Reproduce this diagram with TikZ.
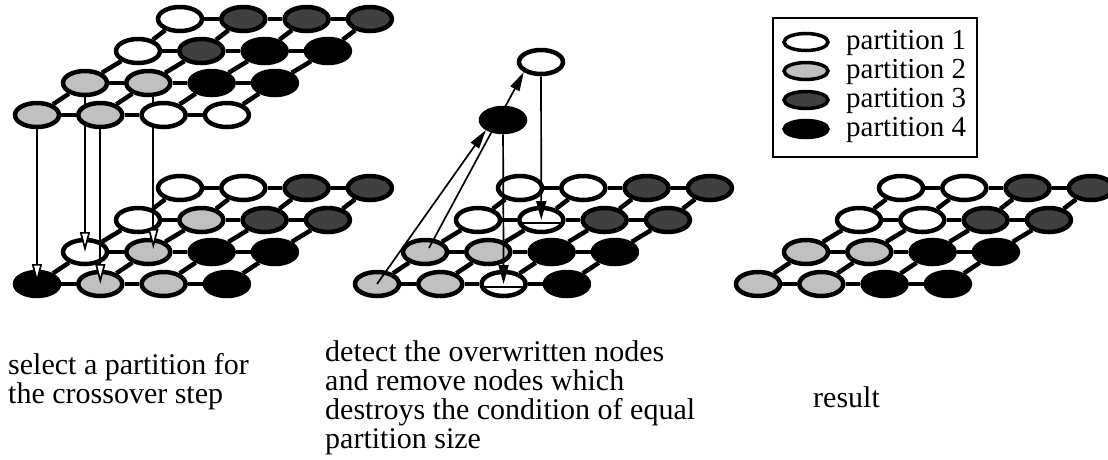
\documentclass[tikz,border=0pt]{standalone}
\usepackage{fontspec}
\setmainfont{Liberation Serif}
\usetikzlibrary{shapes.geometric,arrows.meta}

% drawing order: lower lattice edges, lower lattice nodes, transfer arrows,
% upper lattice edges, upper lattice nodes (main)
\pgfdeclarelayer{lowedges}
\pgfdeclarelayer{lower}
\pgfdeclarelayer{arrowlayer}
\pgfdeclarelayer{topedges}
\pgfsetlayers{lowedges,lower,arrowlayer,topedges,main}

\definecolor{cw}{RGB}{255,255,255}
\definecolor{cg}{RGB}{192,192,192}
\definecolor{cd}{RGB}{64,64,64}
\definecolor{ck}{RGB}{0,0,0}

% #1 name prefix, #2/#3 position of the front-left node,
% #4 partition codes row by row (back row first), #5 edge layer, #6 node layer
\newcommand\latticegrid[6]{%
  \begin{pgfonlayer}{#6}
    \foreach \rowcols [count=\r] in {#4} {
      \pgfmathsetmacro\ox{{143,101,48,0}[\r-1]}
      \foreach \s [count=\c] in \rowcols {
        \node[cell, fill=c\s] (#1-\r-\c) at ({#2+\ox+(\c-1)*63.3}, {#3-(4-\r)*32}) {};
      }
    }
  \end{pgfonlayer}
  \begin{pgfonlayer}{#5}
    \foreach \r in {1,...,4} {
      \foreach \c in {1,...,3} {
        \pgfmathtruncatemacro\cn{\c+1}
        \draw[edge] (#1-\r-\c) -- (#1-\r-\cn);
      }
    }
    \foreach \r in {2,...,4} {
      \foreach \c in {1,...,4} {
        \pgfmathtruncatemacro\rn{\r-1}
        \draw[edge] (#1-\r-\c) -- (#1-\rn-\c);
      }
    }
  \end{pgfonlayer}
}

\begin{document}
\begin{tikzpicture}[
    x=1pt, y=-1pt,
    cell/.style={ellipse, draw=black, line width=4.5pt, minimum width=44pt,
                 minimum height=24pt, inner sep=0pt},
    keycell/.style={ellipse, draw=black, line width=3.5pt, minimum width=44pt,
                 minimum height=17pt, inner sep=0pt},
    edge/.style={line width=4.5pt, black},
    cutline/.style={line width=1.5pt, black},
    liftarrow/.style={line width=1.7pt, -{Triangle[length=20pt,width=10pt,fill=white]}},
    pusharrow/.style={line width=1.7pt, -{Triangle[length=19pt,width=10pt]}},
    caption/.style={font=\fontsize{30pt}{29pt}\selectfont, inner sep=0pt,
                 align=left, anchor=base west},
    keytext/.style={font=\fontsize{29pt}{29pt}\selectfont, inner sep=0pt,
                 anchor=base west},
  ]
  \useasboundingbox (0,0) rectangle (1108,459);

  % the four lattices
  \latticegrid{T}{37}{115}{{w,d,d,d},{w,d,k,k},{g,g,k,k},{g,g,w,w}}{topedges}{main}
  \latticegrid{L}{37}{284}{{w,w,d,d},{w,g,d,d},{w,g,k,k},{k,g,g,k}}{lowedges}{lower}
  \latticegrid{M}{377}{284}{{w,w,d,d},{w,w,d,d},{g,g,k,k},{g,g,w,k}}{lowedges}{lower}
  \latticegrid{R}{758}{284}{{w,w,d,d},{w,w,d,d},{g,g,k,k},{g,g,k,k}}{lowedges}{lower}

  % overwritten nodes
  \begin{pgfonlayer}{lower}
    \draw[cutline] ([xshift=-20pt,yshift=-3pt]M-2-2.center) -- ([xshift=20pt,yshift=-3pt]M-2-2.center);
    \draw[cutline] ([xshift=-20pt,yshift=-3pt]M-4-3.center) -- ([xshift=20pt,yshift=-3pt]M-4-3.center);
  \end{pgfonlayer}

  % lifted nodes
  \node[cell, fill=cw] (moved-w) at (541,62) {};
  \node[cell, fill=ck] (moved-k) at (503,120) {};

  \begin{pgfonlayer}{arrowlayer}
    % crossover copy
    \draw[liftarrow] (T-4-1) -- (L-4-1.center);
    \draw[liftarrow] (T-3-1) -- (L-3-1.center);
    \draw[liftarrow] (T-4-2) -- (L-4-2.center);
    \draw[liftarrow] ([xshift=5pt]T-3-2.center) -- ([xshift=5pt,yshift=3pt]L-3-2.center);
    % repair moves
    \draw[pusharrow] (M-4-1.center) -- (moved-k.south west);
    \draw[pusharrow] ([xshift=4pt,yshift=4pt]M-3-1.center) -- (moved-w.south west);
    \draw[pusharrow] (moved-k) -- (M-4-3.center);
    \draw[pusharrow] (moved-w) -- (M-2-2.center);
  \end{pgfonlayer}

  % legend
  \draw[line width=2pt] (773,18) rectangle (977,157);
  \node[keycell, fill=cw] (key-1) at (806,42) {};
  \node[keycell, fill=cg] (key-2) at (806,71) {};
  \node[keycell, fill=cd] (key-3) at (806,100) {};
  \node[keycell, fill=ck] (key-4) at (806,129) {};
  \node[keytext] (keytext-1) at (846,49) {partition 1};
  \node[keytext] (keytext-2) at (846,78) {partition 2};
  \node[keytext] (keytext-3) at (846,107) {partition 3};
  \node[keytext] (keytext-4) at (846,136) {partition 4};

  % captions (anchored at the baseline of their last line)
  \node[caption] (cap-left) at (8,403) {select a partition for\\the crossover step};
  \node[caption] (cap-mid) at (325,448) {detect the overwritten nodes\\and remove nodes which\\destroys the condition of equal\\partition size};
  \node[caption] (cap-right) at (813,407) {result};
\end{tikzpicture}
\end{document}
